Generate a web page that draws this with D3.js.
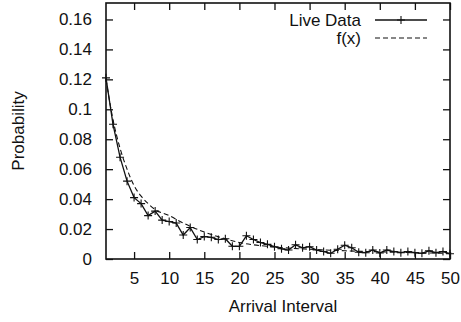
<!DOCTYPE html>
<html>
<head>
<meta charset="utf-8">
<script src="https://cdn.jsdelivr.net/npm/d3@7"></script>
<style>
  body { margin: 0; background: #fff; }
  svg text { font-family: "Liberation Sans", Arial, sans-serif; fill: #111; }
</style>
</head>
<body>
<svg id="chart" width="461" height="322"></svg>
<script>
// arrival interval (x) and measured probability
var intervals = [1, 2, 3, 4, 5, 6, 7, 8, 9, 10,
    11, 12, 13, 14, 15, 16, 17, 18, 19, 20,
    21, 22, 23, 24, 25, 26, 27, 28, 29, 30,
    31, 32, 33, 34, 35, 36, 37, 38, 39, 40,
    41, 42, 43, 44, 45, 46, 47, 48, 49, 50]
var liveData = [0.121, 0.090, 0.068, 0.052, 0.041, 0.037, 0.029, 0.032, 0.026, 0.025,
    0.024, 0.016, 0.021, 0.013, 0.015, 0.0145, 0.013, 0.0135, 0.0085, 0.0085,
    0.0155, 0.013, 0.011, 0.0098, 0.0082, 0.0068, 0.006, 0.0095, 0.0075, 0.0082,
    0.006, 0.005, 0.0038, 0.0065, 0.0092, 0.0075, 0.0045, 0.0042, 0.006, 0.004,
    0.006, 0.005, 0.0042, 0.005, 0.0042, 0.0038, 0.0055, 0.0042, 0.005, 0.0035]

// fitted curve f(x), read at a few points
var fitX = [1, 2, 3, 4, 5, 6, 7, 8, 10, 12, 15, 18, 20, 22, 25, 30, 35, 40, 45, 50]
var fitY = [0.120, 0.093, 0.074, 0.060, 0.049, 0.042, 0.037, 0.033, 0.029, 0.024,
    0.018, 0.0135, 0.011, 0.0095, 0.008, 0.0065, 0.0055, 0.0048, 0.0042, 0.0038]

var xTicks = [5, 10, 15, 20, 25, 30, 35, 40, 45, 50]
var yTicks = [0, 0.02, 0.04, 0.06, 0.08, 0.1, 0.12, 0.14, 0.16]
var yTickLabels = ["0", "0.02", "0.04", "0.06", "0.08", "0.1", "0.12", "0.14", "0.16"]

var plotL = 106, plotR = 450, plotT = 3, plotB = 259

var svg = d3.select("#chart")

var x = d3.scaleLinear().domain([1, 50]).range([plotL, plotR])
var y = d3.scaleLinear().domain([0, 0.171]).range([plotB, plotT])

var tickLen = 7
var fontSize = "17px"

// bottom + top axes (ticks point inward, gnuplot style)
svg.append("g").attr("transform", "translate(0," + plotB + ")")
    .call(d3.axisBottom(x).tickValues(xTicks).tickSizeInner(-tickLen).tickSizeOuter(0).tickPadding(tickLen + 6))
svg.append("g").attr("transform", "translate(0," + plotT + ")")
    .call(d3.axisTop(x).tickValues(xTicks).tickSizeInner(-tickLen).tickSizeOuter(0).tickFormat(""))

svg.append("g").attr("transform", "translate(" + plotL + ",0)")
    .call(d3.axisLeft(y).tickValues(yTicks).tickSizeInner(-tickLen).tickSizeOuter(0)
        .tickPadding(tickLen + 7).tickFormat(function (d, i) { return yTickLabels[i] }))
svg.append("g").attr("transform", "translate(" + plotR + ",0)")
    .call(d3.axisRight(y).tickValues(yTicks).tickSizeInner(-tickLen).tickSizeOuter(0).tickFormat(""))

svg.selectAll(".domain").remove()
svg.selectAll(".tick line").attr("stroke", "#111").attr("stroke-width", 1.3)
svg.selectAll(".tick text").style("font-size", fontSize).style("font-family", "Liberation Sans, Arial, sans-serif").attr("fill", "#111")

// border
svg.append("rect")
    .attr("x", plotL).attr("y", plotT)
    .attr("width", plotR - plotL).attr("height", plotB - plotT)
    .attr("fill", "none").attr("stroke", "#111").attr("stroke-width", 1.6)

// fitted curve
var fitLine = d3.line()
    .x(function (d) { return x(d[0]) })
    .y(function (d) { return y(d[1]) })
    .curve(d3.curveMonotoneX)

svg.append("path")
    .attr("fill", "none")
    .attr("stroke", "#111")
    .attr("stroke-width", 1.1)
    .attr("stroke-dasharray", "5,3")
    .attr("d", fitLine(fitX.map(function (v, i) { return [v, fitY[i]] })))

// live data
var live = intervals.map(function (v, i) { return [v, liveData[i]] })
var dataLine = d3.line()
    .x(function (d) { return x(d[0]) })
    .y(function (d) { return y(d[1]) })

svg.append("path")
    .attr("fill", "none")
    .attr("stroke", "#111")
    .attr("stroke-width", 1.3)
    .attr("d", dataLine(live))

var m = 4
svg.append("g").selectAll("path")
    .data(live)
    .join("path")
    .attr("fill", "none")
    .attr("stroke", "#111")
    .attr("stroke-width", 1.1)
    .attr("d", function (d) {
        var cx = x(d[0]), cy = y(d[1])
        return "M" + (cx - m) + "," + cy + "H" + (cx + m) + "M" + cx + "," + (cy - m) + "V" + (cy + m)
    })

// axis titles
svg.append("text")
    .attr("x", (plotL + plotR) / 2 + 5)
    .attr("y", 312)
    .attr("text-anchor", "middle")
    .style("font-size", fontSize)
    .text("Arrival Interval")

svg.append("text")
    .attr("transform", "translate(24,131) rotate(-90)")
    .attr("text-anchor", "middle")
    .style("font-size", fontSize)
    .text("Probability")

// legend
var legend = [
    { label: "Live Data", dash: null, marker: true, ly: 20 },
    { label: "f(x)", dash: "5,3", marker: false, ly: 38 }
]
var lg = svg.append("g")
legend.forEach(function (l) {
    lg.append("text")
        .attr("x", 361).attr("y", l.ly)
        .attr("dy", "0.35em")
        .attr("text-anchor", "end")
        .style("font-size", fontSize)
        .text(l.label)
    lg.append("line")
        .attr("x1", 375).attr("x2", 427)
        .attr("y1", l.ly).attr("y2", l.ly)
        .attr("stroke", "#111")
        .attr("stroke-width", l.dash ? 1.1 : 1.3)
        .attr("stroke-dasharray", l.dash)
    if (l.marker) {
        lg.append("path")
            .attr("stroke", "#111").attr("stroke-width", 1.1)
            .attr("d", "M" + (401 - m) + "," + l.ly + "H" + (401 + m) + "M401," + (l.ly - m) + "V" + (l.ly + m))
    }
})
</script>
</body>
</html>
